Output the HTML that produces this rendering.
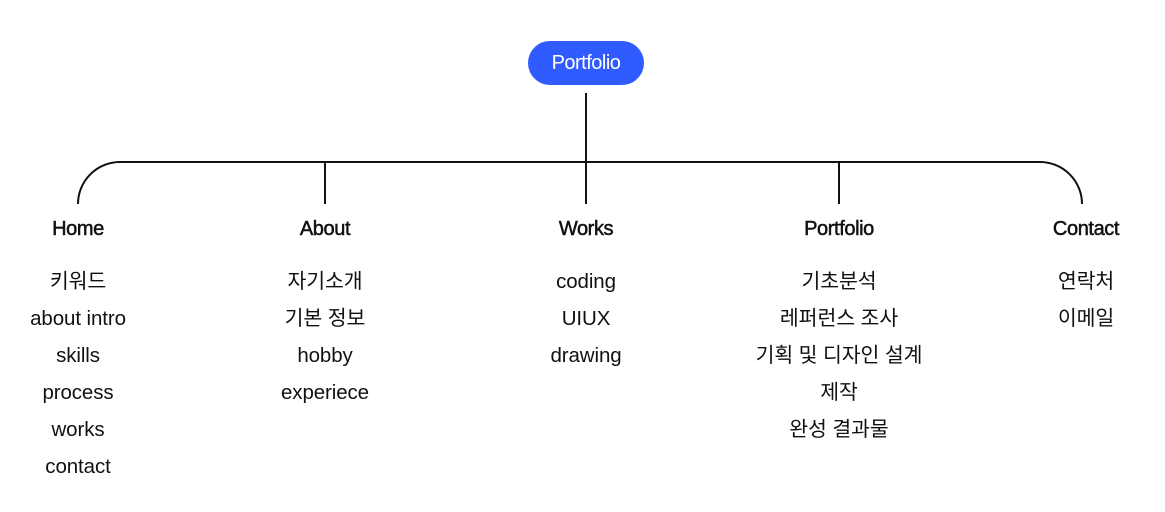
<!DOCTYPE html>
<html><head><meta charset="utf-8"><style>
body{margin:0;width:1165px;height:512px;background:#fff;position:relative;overflow:hidden;font-family:"Liberation Sans","Noto Sans CJK KR",sans-serif;color:#111}
.pill{position:absolute;left:528px;top:41px;width:116px;height:44px;border-radius:22px;background:#2f5bff;color:#fff;font-size:20px;line-height:44px;text-align:center;letter-spacing:-0.5px}
.col{position:absolute;top:214px;width:240px;margin-left:-120px;text-align:center}
.h{font-size:20px;font-weight:normal;-webkit-text-stroke:0.5px #111;letter-spacing:-0.4px;height:30px;line-height:30px}
.i{font-size:20.5px;letter-spacing:-0.1px;line-height:37px}
.items{margin-top:19px}
</style></head><body>
<svg width="1165" height="512" style="position:absolute;left:0;top:0">
<g stroke="#111" stroke-width="2" fill="none">
<line x1="586" y1="93" x2="586" y2="204"/>
<path d="M78 204 A42 42 0 0 1 120 162 L1040 162 A42 42 0 0 1 1082 204"/>
<line x1="325" y1="162" x2="325" y2="204"/>
<line x1="839" y1="162" x2="839" y2="204"/>
</g></svg>
<div class="pill">Portfolio</div>
<div class="col" style="left:78px"><div class="h">Home</div><div class="items"><div class="i">키워드</div><div class="i">about intro</div><div class="i">skills</div><div class="i">process</div><div class="i">works</div><div class="i">contact</div></div></div>
<div class="col" style="left:325px"><div class="h">About</div><div class="items"><div class="i">자기소개</div><div class="i">기본 정보</div><div class="i">hobby</div><div class="i">experiece</div></div></div>
<div class="col" style="left:586px"><div class="h">Works</div><div class="items"><div class="i">coding</div><div class="i">UIUX</div><div class="i">drawing</div></div></div>
<div class="col" style="left:839px"><div class="h">Portfolio</div><div class="items"><div class="i">기초분석</div><div class="i">레퍼런스 조사</div><div class="i">기획 및 디자인 설계</div><div class="i">제작</div><div class="i">완성 결과물</div></div></div>
<div class="col" style="left:1086px"><div class="h">Contact</div><div class="items"><div class="i">연락처</div><div class="i">이메일</div></div></div>
</body></html>
